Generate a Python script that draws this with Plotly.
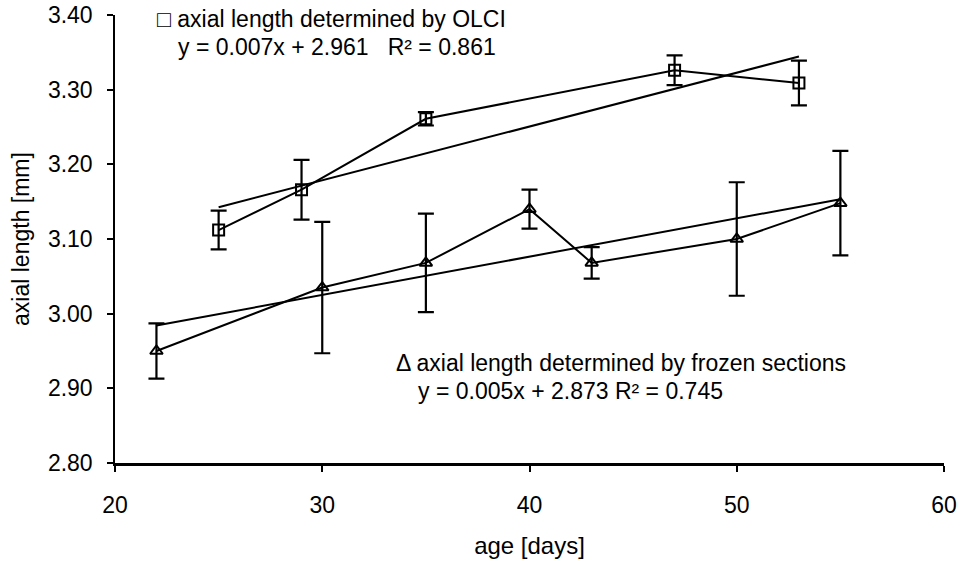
import numpy as np
import plotly.graph_objects as go

# OLCI (squares)
olci_age = [25, 29, 35, 47, 53]
olci_len = [3.112, 3.166, 3.261, 3.326, 3.309]
olci_err = [0.026, 0.040, 0.009, 0.020, 0.030]

# frozen sections (triangles)
frozen_age = [22, 30, 35, 40, 43, 50, 55]
frozen_len = [2.950, 3.035, 3.068, 3.140, 3.068, 3.100, 3.148]
frozen_err = [0.037, 0.088, 0.066, 0.026, 0.021, 0.076, 0.070]

x_ticks = [20, 30, 40, 50, 60]
y_ticks = [2.80, 2.90, 3.00, 3.10, 3.20, 3.30, 3.40]

FONT = "Liberation Sans, Arial, sans-serif"
BLACK = "#000000"

def trend(xs, ys):
    k, b = np.polyfit(xs, ys, 1)
    xx = np.array([min(xs), max(xs)], dtype=float)
    return xx, k * xx + b

fig = go.Figure()

for xs, ys, errs, sym in [
    (olci_age, olci_len, olci_err, "square-open"),
    (frozen_age, frozen_len, frozen_err, "triangle-up-open"),
]:
    tx, ty = trend(xs, ys)
    fig.add_trace(go.Scatter(x=tx, y=ty, mode="lines",
                             line=dict(color=BLACK, width=2),
                             showlegend=False, hoverinfo="skip"))
    fig.add_trace(go.Scatter(
        x=xs, y=ys, mode="lines+markers",
        line=dict(color=BLACK, width=2),
        marker=dict(symbol=sym, size=11, color=BLACK, line=dict(width=2, color=BLACK)),
        error_y=dict(type="data", array=errs, visible=True, color=BLACK,
                     thickness=2.2, width=8),
        showlegend=False))

ann_font = dict(family=FONT, size=23, color=BLACK)
annots = [
    (22.0, 3.394, "\u25a1 axial length determined by OLCI"),
    (23.0, 3.3565, "y = 0.007x + 2.961   R\u00b2 = 0.861"),
    (33.5, 2.934, "\u0394 axial length determined by frozen sections"),
    (34.55, 2.8964, "y = 0.005x + 2.873 R\u00b2 = 0.745"),
]
for ax_, ay_, txt in annots:
    fig.add_annotation(x=ax_, y=ay_, xref="x", yref="y", text=txt,
                       showarrow=False, xanchor="left", yanchor="middle",
                       font=ann_font, borderpad=0)

fig.update_layout(
    width=960, height=564,
    margin=dict(l=115, r=16, t=15, b=101),
    paper_bgcolor="white", plot_bgcolor="white",
    font=dict(family=FONT, size=23, color=BLACK),
    showlegend=False,
)
fig.update_xaxes(
    range=[20, 60], tickvals=x_ticks, ticktext=[str(v) for v in x_ticks],
    automargin=False,
    showgrid=False, zeroline=False, showline=True, linecolor=BLACK, linewidth=2.5,
    ticks="outside", ticklen=6, tickwidth=1.5, tickcolor=BLACK,
    tickfont=dict(family=FONT, size=23, color=BLACK), ticklabelstandoff=14,
    ticklabeloverflow="allow",
    title=dict(text="age [days]", font=dict(family=FONT, size=24, color=BLACK), standoff=20),
)
fig.update_yaxes(
    range=[2.8, 3.4], tickvals=y_ticks, ticktext=[f"{v:.2f}" for v in y_ticks],
    automargin=False,
    showgrid=False, zeroline=False, showline=True, linecolor=BLACK, linewidth=1.5,
    ticks="outside", ticklen=6, tickwidth=1.5, tickcolor=BLACK,
    tickfont=dict(family=FONT, size=23, color=BLACK), ticklabelstandoff=10,
    ticklabeloverflow="allow",
    title=dict(text="axial length [mm]", font=dict(family=FONT, size=23, color=BLACK), standoff=12),
)

fig.write_html("out.html")
